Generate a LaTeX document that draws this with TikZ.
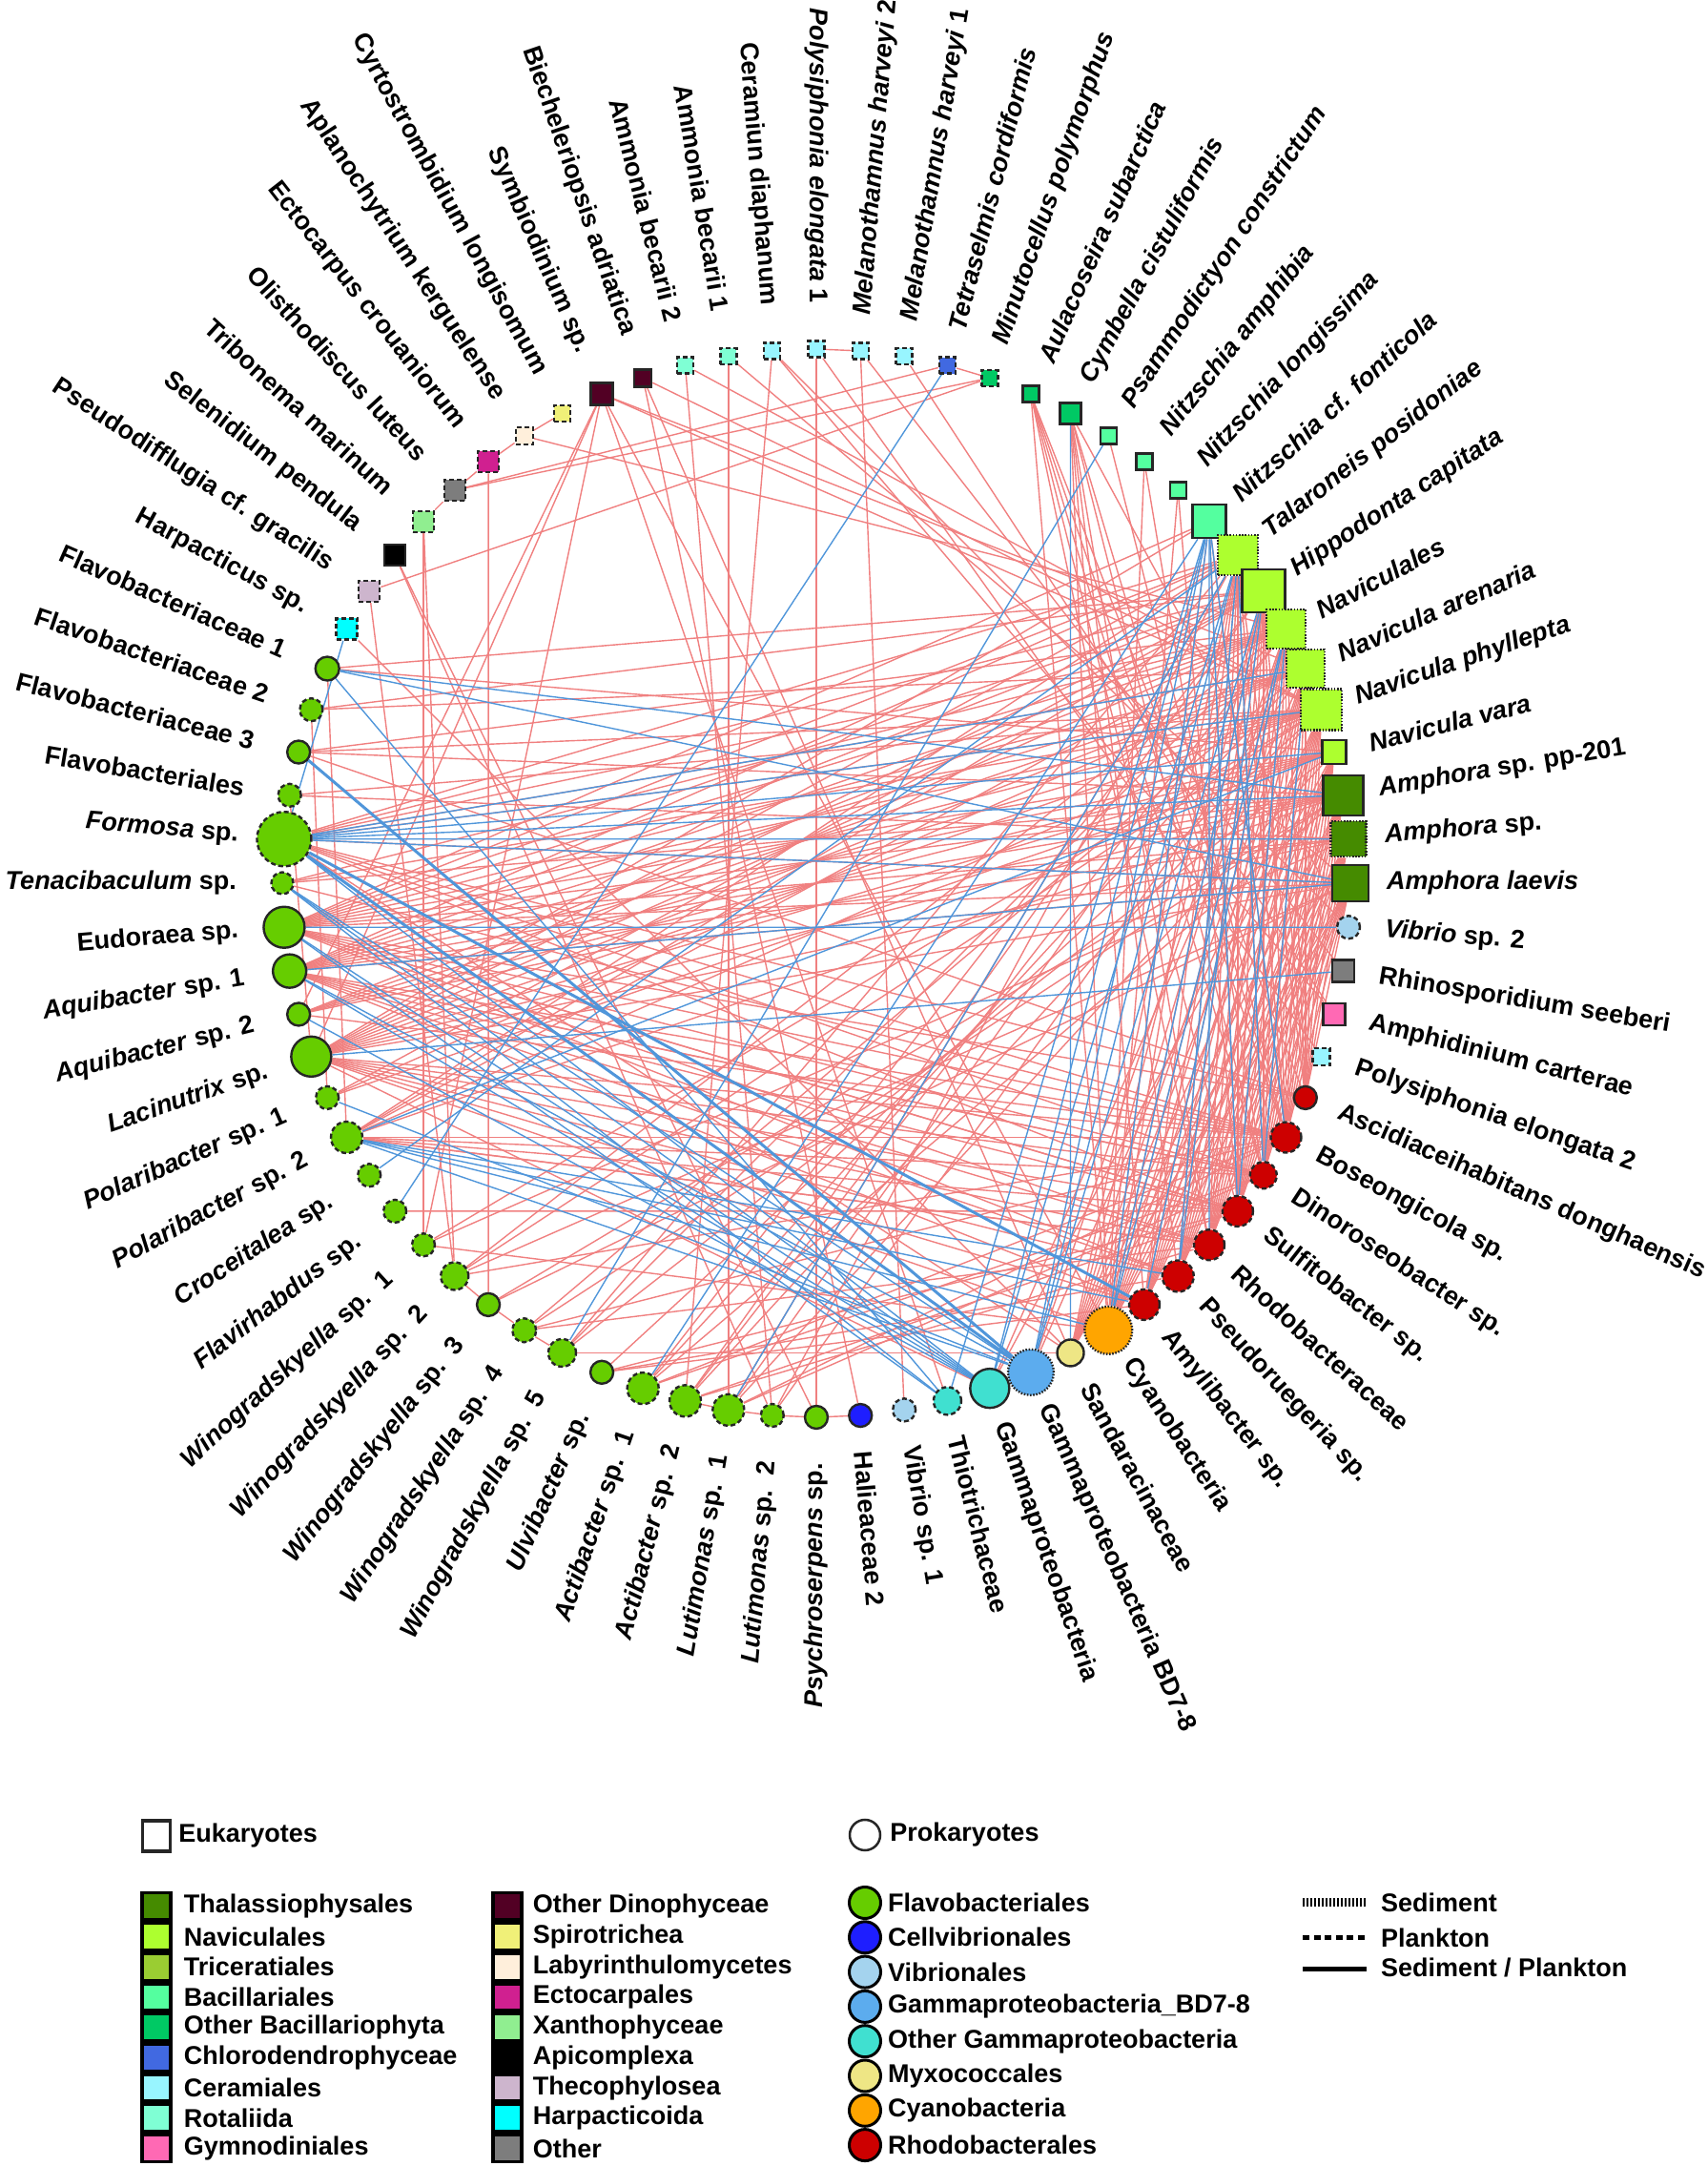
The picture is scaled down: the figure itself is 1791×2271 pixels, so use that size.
\documentclass[tikz,border=0pt]{standalone}
\usepackage{fontspec}
\setmainfont{Liberation Sans}
\usetikzlibrary{calc,backgrounds}

% order colours (eukaryotes)
\definecolor{thalas}{RGB}{69,139,0}
\definecolor{navic}{RGB}{173,255,47}
\definecolor{tricer}{RGB}{154,205,50}
\definecolor{bacil}{RGB}{84,255,159}
\definecolor{obac}{RGB}{0,201,100}
\definecolor{chloro}{RGB}{65,105,225}
\definecolor{ceram}{RGB}{152,245,255}
\definecolor{rotal}{RGB}{127,255,212}
\definecolor{gymno}{RGB}{255,105,180}
\definecolor{dino}{RGB}{82,0,36}
\definecolor{spiro}{RGB}{240,240,120}
\definecolor{laby}{RGB}{255,239,219}
\definecolor{ecto}{RGB}{208,32,144}
\definecolor{xanth}{RGB}{144,238,144}
\definecolor{apic}{RGB}{0,0,0}
\definecolor{theco}{RGB}{205,181,205}
\definecolor{harp}{RGB}{0,255,255}
\definecolor{othr}{RGB}{125,125,125}
% order colours (prokaryotes)
\definecolor{flavo}{RGB}{102,205,0}
\definecolor{cellv}{RGB}{30,30,255}
\definecolor{vibr}{RGB}{164,211,238}
\definecolor{gbd}{RGB}{92,172,238}
\definecolor{ogam}{RGB}{64,224,208}
\definecolor{myxo}{RGB}{238,230,133}
\definecolor{cyano}{RGB}{255,165,0}
\definecolor{rhodo}{RGB}{205,0,0}
% edges
\definecolor{edgered}{RGB}{240,128,128}
\definecolor{edgeblue}{RGB}{80,150,218}

\begin{document}
\begin{tikzpicture}[x=1pt,y=1pt,
    euk/.style={rectangle,draw=black!85,line width=2.4pt,inner sep=0pt},
    pro/.style={circle,draw=black!85,line width=2.4pt,inner sep=0pt},
    sedim/.style={dash pattern=on 1.6pt off 1.6pt},
    plank/.style={dash pattern=on 5pt off 3pt},
    sedplank/.style={},
    posedge/.style={draw=edgered,line width=1.4pt},
    negedge/.style={draw=edgeblue,line width=1.4pt},
    lab/.style={font=\fontsize{27}{32}\selectfont\bfseries,inner sep=0pt},
    keybox/.style={rectangle,draw=black,line width=3.5pt,minimum width=30,minimum height=28.2,inner sep=0pt},
    keydot/.style={circle,draw=black,line width=3pt,minimum size=33,inner sep=0pt}]
\useasboundingbox (0,0) rectangle (1791,2271);
\coordinate (ctr) at (856,1345);

% network nodes, clockwise from Amphora laevis
\foreach \k/\txt/\col/\sz/\shp/\bd in {
  0/{\textit{Amphora laevis}}/thalas/38/euk/sedplank,
  1/{\textit{Vibrio} sp. 2}/vibr/24/pro/plank,
  2/{Rhinosporidium seeberi}/othr/23/euk/sedplank,
  3/{Amphidinium carterae}/gymno/23/euk/sedplank,
  4/{Polysiphonia elongata 2}/ceram/18/euk/plank,
  5/{Ascidiaceihabitans donghaensis}/rhodo/24/pro/sedplank,
  6/{Boseongicola sp.}/rhodo/32/pro/plank,
  7/{Dinoroseobacter sp.}/rhodo/28/pro/plank,
  8/{Sulfitobacter sp.}/rhodo/32/pro/plank,
  9/{Rhodobacteraceae}/rhodo/32/pro/plank,
  10/{Pseudoruegeria sp.}/rhodo/33/pro/plank,
  11/{Amylibacter sp.}/rhodo/32/pro/plank,
  12/{Cyanobacteria}/cyano/50/pro/sedim,
  13/{Sandaracinaceae}/myxo/28/pro/sedplank,
  14/{Gammaproteobacteria BD7-8}/gbd/48/pro/sedim,
  15/{Gammaproteobacteria}/ogam/41/pro/sedplank,
  16/{Thiotrichaceae}/ogam/29/pro/plank,
  17/{Vibrio sp. 1}/vibr/24/pro/plank,
  18/{Halieaceae 2}/cellv/24/pro/sedplank,
  19/{\textit{Psychroserpens} sp.}/flavo/24/pro/sedplank,
  20/{\textit{Lutimonas} sp.\ \ 2}/flavo/24/pro/plank,
  21/{\textit{Lutimonas} sp.\ \ 1}/flavo/33/pro/plank,
  22/{\textit{Actibacter} sp.\ \ 2}/flavo/33/pro/plank,
  23/{\textit{Actibacter} sp.\ \ 1}/flavo/33/pro/plank,
  24/{\textit{Ulvibacter} sp.}/flavo/24/pro/sedplank,
  25/{\textit{Winogradskyella} sp.\ \ 5}/flavo/29/pro/plank,
  26/{\textit{Winogradskyella} sp.\ \ 4}/flavo/25/pro/plank,
  27/{\textit{Winogradskyella} sp.\ \ 3}/flavo/24/pro/sedplank,
  28/{\textit{Winogradskyella} sp.\ \ 2}/flavo/29/pro/plank,
  29/{\textit{Winogradskyella} sp.\ \ 1}/flavo/24/pro/plank,
  30/{\textit{Flavirhabdus} sp.}/flavo/24/pro/plank,
  31/{\textit{Croceitalea} sp.}/flavo/24/pro/plank,
  32/{\textit{Polaribacter} sp. 2}/flavo/33/pro/plank,
  33/{\textit{Polaribacter} sp. 1}/flavo/24/pro/plank,
  34/{\textit{Lacinutrix} sp.}/flavo/42/pro/sedplank,
  35/{\textit{Aquibacter} sp. 2}/flavo/24/pro/sedplank,
  36/{\textit{Aquibacter} sp. 1}/flavo/35/pro/sedplank,
  37/{Eudoraea sp.}/flavo/43/pro/sedplank,
  38/{\textit{Tenacibaculum} sp.}/flavo/23/pro/plank,
  39/{\textit{Formosa} sp.}/flavo/57/pro/plank,
  40/{Flavobacteriales}/flavo/24/pro/plank,
  41/{Flavobacteriaceae 3}/flavo/24/pro/sedplank,
  42/{Flavobacteriaceae 2}/flavo/24/pro/plank,
  43/{Flavobacteriaceae 1}/flavo/25/pro/sedplank,
  44/{Harpacticus sp.}/harp/22/euk/plank,
  45/{Pseudodifflugia cf. gracilis}/theco/22/euk/plank,
  46/{Selenidium pendula}/apic/22/euk/sedplank,
  47/{Tribonema marinum}/xanth/22/euk/plank,
  48/{Olisthodiscus luteus}/othr/22/euk/plank,
  49/{Ectocarpus crouaniorum}/ecto/22/euk/plank,
  50/{Aplanochytrium kerguelense}/laby/18/euk/plank,
  51/{Cyrtostrombidium longisomum}/spiro/17/euk/plank,
  52/{Symbiodinium sp.}/dino/23/euk/sedplank,
  53/{Biecheleriopsis adriatica}/dino/18/euk/sedplank,
  54/{Ammonia becarii 2}/rotal/17/euk/plank,
  55/{Ammonia becarii 1}/rotal/17/euk/plank,
  56/{Ceramiun diaphanum}/ceram/17/euk/plank,
  57/{\textit{Polysiphonia elongata} 1}/ceram/17/euk/plank,
  58/{\textit{Melanothamnus harveyi} 2}/ceram/17/euk/plank,
  59/{\textit{Melanothamnus harveyi} 1}/ceram/17/euk/plank,
  60/{\textit{Tetraselmis cordiformis}}/chloro/17/euk/plank,
  61/{\textit{Minutocellus polymorphus}}/obac/17/euk/plank,
  62/{\textit{Aulacoseira subarctica}}/obac/17/euk/sedplank,
  63/{\textit{Cymbella cistuliformis}}/obac/22/euk/sedplank,
  64/{\textit{Psammodictyon constrictum}}/bacil/17/euk/sedplank,
  65/{\textit{Nitzschia amphibia}}/bacil/17/euk/sedplank,
  66/{\textit{Nitzschia longissima}}/bacil/17/euk/sedplank,
  67/{\textit{Nitzschia cf. fonticola}}/bacil/35/euk/sedplank,
  68/{\textit{Talaroneis posidoniae}}/navic/42/euk/sedim,
  69/{\textit{Hippodonta capitata}}/navic/45/euk/sedplank,
  70/{\textit{Naviculales}}/navic/41/euk/sedim,
  71/{\textit{Navicula arenaria}}/navic/40/euk/sedim,
  72/{\textit{Navicula phyllepta}}/navic/43/euk/sedim,
  73/{\textit{Navicula vara}}/navic/25/euk/sedplank,
  74/{\textit{Amphora} sp. pp-201}/thalas/42/euk/sedplank,
  75/{\textit{Amphora} sp.}/thalas/37/euk/sedim}{
  \pgfmathsetmacro{\ang}{-\k*(360/76)}
  \node[\shp,\bd,fill=\col,minimum size=\sz] (n\k) at ($(ctr)+(\ang:560)$) {};
  \pgfmathtruncatemacro{\rt}{cos(\ang)>0.01}
  \ifnum\rt=1
    \node[lab,anchor=west,rotate=\ang] (t\k) at ($(ctr)+(\ang:598)$) {\txt};
  \else
    \node[lab,anchor=east,rotate=\ang+180] (t\k) at ($(ctr)+(\ang:608)$) {\txt};
  \fi
}

% co-occurrence edges
\begin{scope}[on background layer]
  % positive
  \foreach \a/\b in {5/69,5/72,5/74,6/68,6/70,6/71,6/72,6/73,6/75,6/0,7/68,7/69,7/71,7/73,7/74,7/0,
      8/69,8/70,8/72,8/74,8/75,9/68,9/70,9/71,9/73,9/0,10/69,10/72,10/74,10/75,11/70,11/71,11/73,
      12/67,12/68,12/69,12/70,12/71,12/72,12/73,12/74,12/75,12/0,13/69,13/72,13/74,4/57,3/56,
      5/68,5/70,5/71,5/73,5/75,5/0,6/69,6/74,7/70,7/72,7/75,8/68,8/71,8/73,8/0,9/69,9/72,9/74,9/75,
      10/68,10/70,10/71,10/73,10/0,11/68,11/69,11/72,11/74,11/75,11/0,13/68,13/70,13/71,13/73,13/75,
      13/0,14/70,14/72,15/71,15/73,
      39/69,39/71,39/0,37/68,37/70,37/72,37/74,37/75,37/0,36/69,36/71,36/73,36/75,
      34/68,34/70,34/72,34/74,34/0,35/71,35/73,32/69,32/72,38/70,41/72,41/74,42/69,40/75,43/73,
      37/69,37/71,37/73,36/68,36/70,36/72,36/74,36/0,34/69,34/71,34/73,34/75,39/68,39/70,39/72,
      38/72,38/74,35/70,35/72,35/74,32/68,32/70,32/74,33/69,33/73,41/70,42/71,43/69,40/72,
      6/37,6/39,6/34,6/36,6/32,7/37,7/34,7/36,8/39,8/37,8/34,9/36,9/32,5/37,5/41,10/34,11/36,
      37/8,37/9,37/10,36/7,36/8,36/10,34/9,34/11,34/12,39/5,39/7,38/6,35/6,32/8,
      21/70,21/73,21/6,22/69,22/72,22/8,23/71,23/74,23/7,25/70,25/68,28/72,28/0,28/6,32/7,32/9,
      27/74,20/68,26/71,26/9,24/10,29/72,30/8,33/71,
      21/68,22/70,23/69,24/72,25/73,26/74,27/0,28/70,29/75,20/71,21/7,22/9,23/6,24/8,26/6,
      52/34,52/35,52/12,52/71,52/72,52/29,52/16,53/72,53/13,54/72,55/0,56/1,58/2,59/3,
      53/18,54/20,55/21,56/22,57/19,58/17,
      48/60,48/61,45/61,60/61,57/58,50/70,50/51,49/50,48/49,47/48,47/28,47/29,46/19,46/20,
      49/27,45/28,44/13,
      62/5,62/6,62/7,62/8,62/12,62/9,63/6,63/7,63/9,63/10,63/12,63/1,63/11,64/6,65/7,66/8,
      66/12,65/12,67/6,67/8,67/37,67/34,
      43/32,42/33,40/34,18/19,19/20,20/21,21/22,25/26,26/27,27/28,
      34/15,39/13,12/29,11/24,13/25}
    \draw[posedge] (n\a) -- (n\b);
  % negative
  \foreach \a/\b in {39/71,39/72,39/73,39/74,39/75,39/0,43/74,43/0,37/15,37/1,38/14,38/16,
      36/14,36/0,32/10,32/11,32/12,32/14,31/68,25/64,30/60,63/13,34/2,44/39,
      67/16,67/15,67/14,67/12,67/9,67/8,67/6,68/15,68/14,68/10,68/7,69/14,69/12,70/11,
      73/32,67/23,68/21,43/16,35/15,70/8,71/7,69/10,70/12,
      37/16,39/15,36/15,38/15,33/14}
    \draw[negedge] (n\a) -- (n\b);
  \foreach \a/\b in {39/14,39/11,41/14}
    \draw[negedge,line width=3pt] (n\a) -- (n\b);
\end{scope}

% legend
\node[euk,fill=white,minimum width=29,minimum height=32,line width=3.5pt] (eukkey) at (164,346) {};
\node[lab,anchor=west] (euklab) at ([xshift=7pt]eukkey.east) {Eukaryotes};
\node[pro,fill=white,minimum size=32,line width=2.5pt] (prokey) at (907,347) {};
\node[lab,anchor=west] (prolab) at ([xshift=9pt]prokey.east) {Prokaryotes};

\foreach \i/\col/\txt in {0/thalas/Thalassiophysales,1/navic/Naviculales,2/tricer/Triceratiales,
    3/bacil/Bacillariales,4/obac/Other Bacillariophyta,5/chloro/Chlorodendrophyceae,
    6/ceram/Ceramiales,7/rotal/Rotaliida,8/gymno/Gymnodiniales}{
  \node[keybox,fill=\col] (ka\i) at (164,{288-31.7*(\i+0.5)}) {};
  \node[lab,anchor=west] (la\i) at ([xshift=12pt]ka\i.east) {\txt};
}
\foreach \i/\col/\txt in {0/dino/Other Dinophyceae,1/spiro/Spirotrichea,2/laby/Labyrinthulomycetes,
    3/ecto/Ectocarpales,4/xanth/Xanthophyceae,5/apic/Apicomplexa,
    6/theco/Thecophylosea,7/harp/Harpacticoida,8/othr/Other}{
  \node[keybox,fill=\col] (kb\i) at (532,{288-31.7*(\i+0.5)}) {};
  \node[lab,anchor=west] (lb\i) at ([xshift=10pt]kb\i.east) {\txt};
}
\foreach \i/\col/\txt in {0/flavo/Flavobacteriales,1/cellv/Cellvibrionales,2/vibr/Vibrionales,
    3/gbd/Gammaproteobacteria\_BD7-8,4/ogam/Other Gammaproteobacteria,5/myxo/Myxococcales,
    6/cyano/Cyanobacteria,7/rhodo/Rhodobacterales}{
  \node[keydot,fill=\col] (kc\i) at (907,{276-36.3*\i}) {};
  \node[lab,anchor=west] (lc\i) at ([xshift=6pt]kc\i.east) {\txt};
}
\draw[line width=9pt,dash pattern=on 1.6pt off 2.4pt] (1366,276) -- (1433,276);
\node[lab,anchor=west] (sedlab) at (1448,276) {Sediment};
\draw[line width=5pt,dash pattern=on 7pt off 4.5pt] (1366,239) -- (1433,239);
\node[lab,anchor=west] (plklab) at (1448,239) {Plankton};
\draw[line width=5pt] (1366,206) -- (1433,206);
\node[lab,anchor=west] (bothlab) at (1448,208) {Sediment / Plankton};
\end{tikzpicture}
\end{document}
